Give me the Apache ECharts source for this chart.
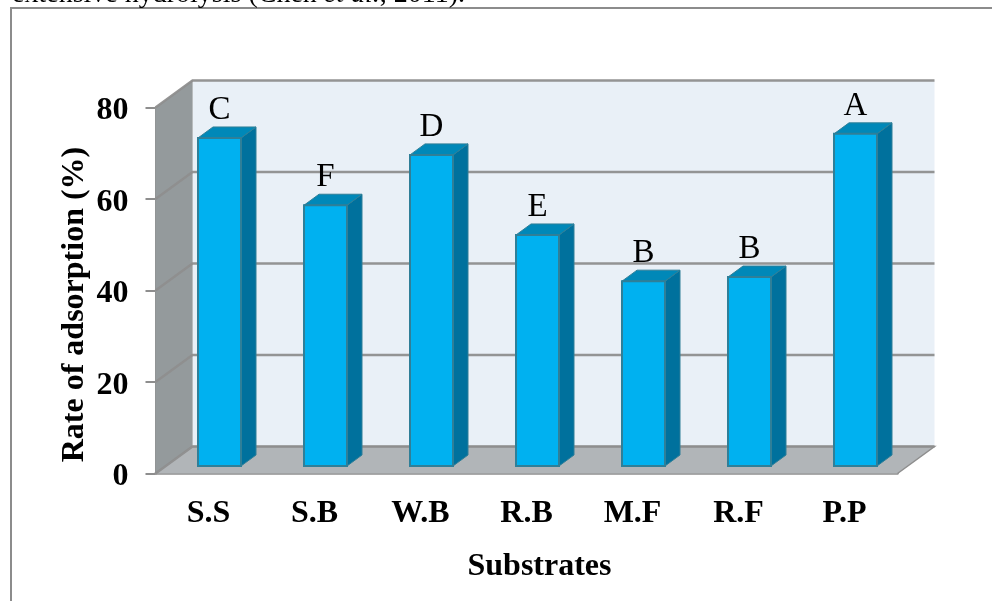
<!DOCTYPE html>
<html><head><meta charset="utf-8">
<style>html,body{margin:0;padding:0;background:#fff}#c{width:992px;height:601px}</style>
<script src="https://cdn.jsdelivr.net/npm/echarts@6/dist/echarts.min.js"></script>
</head><body><div id="c"></div>
<script>
const categories = ['S.S','S.B','W.B','R.B','M.F','R.F','P.P'];
const rates = [71.7,57,68,50.5,40.4,41.3,72.6];
const letters = ['C','F','D','E','B','B','A'];
const ticks = [0,20,40,60,80];
const FONT = '"Liberation Serif","Times New Roman",serif';
const WALL = {dx:37, dy:-27};
const BAR = {half:21.5, dx:11, dy:-7.5, depthX:15, depthY:-11};
const GRID_LINE = '#8e8e8e';

const chart = echarts.init(document.getElementById('c'), null, {renderer:'canvas'});

function poly(points, fill, stroke, lw){
  return {type:'polygon', shape:{points}, style:{fill, stroke:stroke||null, lineWidth:lw||0}};
}
function backdrop(params, api){
  const r = params.coordSys, x0=r.x, x1=r.x+r.width, top=r.y, bot=r.y+r.height;
  const d=WALL;
  return {type:'group', children:[
    poly([[x0+d.dx,top+d.dy],[x1+d.dx,top+d.dy],[x1+d.dx,bot+d.dy],[x0+d.dx,bot+d.dy]],'#e9f0f7'),
    poly([[x0,top],[x0+d.dx,top+d.dy],[x0+d.dx,bot+d.dy],[x0,bot]],'#949a9c'),
    poly([[x0,bot],[x0+d.dx,bot+d.dy],[x1+d.dx,bot+d.dy],[x1,bot]],'#b1b5b8'),
    {type:'polyline', shape:{points:[[x1,bot],[x1+d.dx,bot+d.dy],[x0+d.dx,bot+d.dy]]}, style:{fill:null,stroke:GRID_LINE,lineWidth:1.5}},
    {type:'line', shape:{x1:x0+d.dx,y1:bot+d.dy,x2:x0+d.dx,y2:top+d.dy}, style:{stroke:'#b8bcbe',lineWidth:1}}
  ]};
}
function gridLine(params, api){
  const r = params.coordSys, y = api.coord([0, api.value(0)])[1], d=WALL;
  return {type:'polyline', shape:{points:[[r.x,y],[r.x+d.dx,y+d.dy],[r.x+r.width+d.dx,y+d.dy]]},
    style:{fill:null, stroke:GRID_LINE, lineWidth:2.4, opacity:0.95}};
}
function bar3d(params, api){
  const c = api.coord([api.value(0), api.value(1)]);
  const z = api.coord([api.value(0), 0]);
  const l=c[0]+BAR.dx-BAR.half, w=BAR.half*2, t=c[1]+BAR.dy, b=z[1]+BAR.dy, dx=BAR.depthX, dy=BAR.depthY;
  const edge='#2f7f98';
  return {type:'group', children:[
    poly([[l+w,t],[l+w+dx,t+dy],[l+w+dx,b+dy],[l+w,b]],'#00719d',edge,1),
    poly([[l,t],[l+dx,t+dy],[l+w+dx,t+dy],[l+w,t]],'#0088b8',edge,1),
    {type:'rect', shape:{x:l,y:t,width:w,height:b-t}, style:{fill:'#00b1f0',stroke:edge,lineWidth:2}},
    {type:'text', x:l+w/2, y:t-27.5, style:{text:letters[params.dataIndex], fill:'#000', font:'33px '+FONT, align:'center', verticalAlign:'middle'}}
  ]};
}

chart.setOption({
  animation:false,
  backgroundColor:'#fff',
  grid:{left:155.5, top:107.5, width:742, height:366, containLabel:false},
  xAxis:{type:'category', data:categories, name:'Substrates', nameLocation:'middle', nameGap:77,
    nameTextStyle:{fontFamily:FONT,fontWeight:'bold',fontSize:32,color:'#000',padding:[0,0,0,26]},
    axisLine:{show:true,lineStyle:{color:GRID_LINE,width:2.5}}, axisTick:{show:false},
    axisLabel:{fontFamily:FONT,fontWeight:'bold',fontSize:32,color:'#000',margin:24,interval:0}},
  yAxis:{type:'value', min:0, max:80, interval:20, name:'Rate of adsorption (%)', nameLocation:'middle', nameGap:65, nameRotate:90, nameMoveOverlap:false,
    nameTextStyle:{fontFamily:FONT,fontWeight:'bold',fontSize:32,color:'#000',padding:[0,28,0,0]},
    axisLine:{show:true,lineStyle:{color:GRID_LINE,width:2}},
    axisTick:{show:true,length:10,lineStyle:{color:GRID_LINE,width:2}},
    splitLine:{show:false},
    axisLabel:{formatter:v=>'{t|'+v+'}',margin:27,
      rich:{t:{fontFamily:FONT,fontWeight:'bold',fontSize:32,color:'#000',padding:[7,0,0,0]}}}},
  series:[
    {type:'custom', coordinateSystem:'cartesian2d', silent:true, z:1, clip:false, renderItem:backdrop, data:[[0,0]], encode:{x:0,y:1}},
    {type:'custom', coordinateSystem:'cartesian2d', silent:true, z:2, clip:false, renderItem:gridLine,
      data:ticks.map(v=>[v]), encode:{y:0}},
    {type:'custom', coordinateSystem:'cartesian2d', z:3, clip:false, renderItem:bar3d,
      data:categories.map((c,i)=>[i,rates[i]]), encode:{x:0,y:1}}
  ],
  graphic:[
    {type:'polyline', z:10, shape:{points:[[11,601],[11,8],[992,8]]}, style:{fill:null,stroke:'#8c8c8c',lineWidth:2}},
    {type:'text', z:10, left:12, top:-19, style:{
      rich:{n:{font:'28px '+FONT,fill:'#000'},i:{font:'italic 28px '+FONT,fill:'#000'}},
      text:'{n|extensive hydrolysis (Chen }{i|et al.}{n|, 2011).}'}}
  ]
});
</script></body></html>
